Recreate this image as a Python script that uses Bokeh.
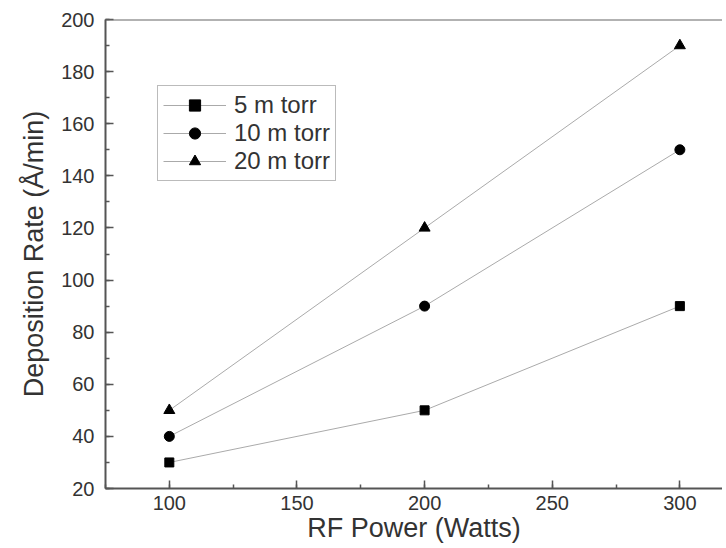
from bokeh.plotting import figure
from bokeh.models import (Range1d, SingleIntervalTicker, Legend, LegendItem, Span)
from bokeh.embed import file_html
from bokeh.resources import INLINE

power = [100, 200, 300]
rate_5 = [30, 50, 90]
rate_10 = [40, 90, 150]
rate_20 = [50, 120, 190]
series_names = ["5 m torr", "10 m torr", "20 m torr"]

FONT = "Liberation Sans"

p = figure(width=722, height=546, output_backend="svg", toolbar_location=None,
           x_range=Range1d(75, 316.7), y_range=Range1d(20, 200),
           min_border_left=105, min_border_top=19, min_border_bottom=58, min_border_right=0)
p.outline_line_color = None
p.xgrid.visible = False
p.ygrid.visible = False
p.background_fill_color = "white"
p.border_fill_color = "white"

top = Span(location=200, dimension="width", line_color="#666666", line_width=2)
p.add_layout(top)

series = [rate_5, rate_10, rate_20]
markers = ["square", "circle", "triangle"]
sizes = [9, 10, 11]
items = []
for name, ys, mk, sz in zip(series_names, series, markers, sizes):
    r1 = p.line(power, ys, line_color="#aaaaaa", line_width=1)
    r2 = p.scatter(power, ys, marker=mk, size=sz, fill_color="black", line_color="black")
    items.append(LegendItem(label=name, renderers=[r1, r2]))

legend = Legend(items=items, location=(52, 307), glyph_width=63, glyph_height=28,
                label_height=28, spacing=0, padding=5, label_standoff=8,
                label_text_font=FONT, label_text_font_size="24px", label_text_color="#333333",
                border_line_color="#777777", border_line_width=1.5, background_fill_alpha=1,
                margin=0)
p.add_layout(legend, "center")

for ax in (p.xaxis[0], p.yaxis[0]):
    ax.axis_line_color = "#555555"
    ax.axis_line_width = 2
    ax.major_tick_line_color = "#555555"
    ax.minor_tick_line_color = "#555555"
    ax.major_tick_line_width = 1.5
    ax.minor_tick_line_width = 1.5
    ax.major_tick_in = 8
    ax.major_tick_out = 0
    ax.minor_tick_in = 4
    ax.minor_tick_out = 0
    ax.major_label_text_font = FONT
    ax.major_label_text_font_size = "20px"
    ax.major_label_text_color = "#333333"
    ax.axis_label_text_font = FONT
    ax.axis_label_text_font_size = "27px"
    ax.axis_label_text_font_style = "normal"
    ax.axis_label_text_color = "#333333"

p.xaxis.ticker = SingleIntervalTicker(interval=50, num_minor_ticks=2)
p.yaxis.ticker = SingleIntervalTicker(interval=20, num_minor_ticks=2)
p.xaxis.axis_label = "RF Power (Watts)"
p.yaxis.axis_label = "Deposition Rate (Å/min)"
p.xaxis.major_label_standoff = 7
p.xaxis.axis_label_standoff = 0
p.yaxis.major_label_standoff = 11
p.yaxis.axis_label_standoff = 9

open("out.html", "w").write(file_html(p, INLINE))
